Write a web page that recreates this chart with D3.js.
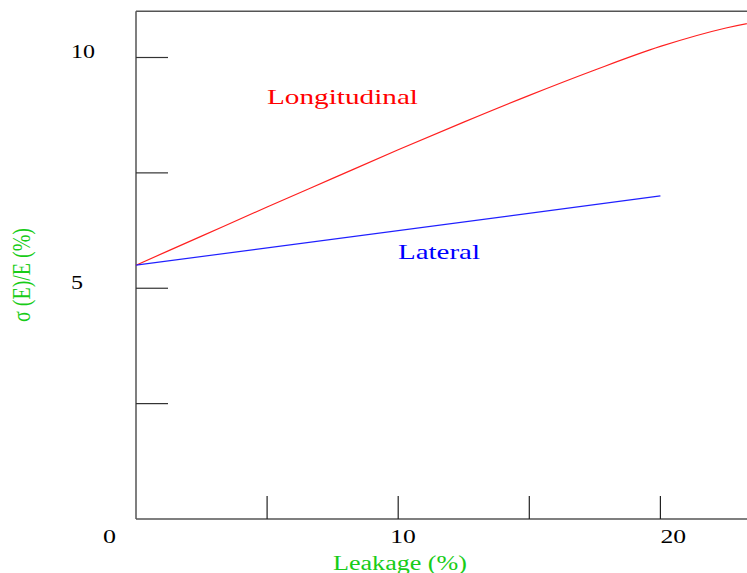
<!DOCTYPE html>
<html>
<head>
<meta charset="utf-8">
<script src="https://cdn.jsdelivr.net/npm/d3@7"></script>
<style>
  html, body { margin: 0; padding: 0; background: #fff; }
  svg { display: block; }
  text { font-family: "Liberation Serif", "DejaVu Serif", serif; }
</style>
</head>
<body>
<svg id="chart" width="747" height="573"></svg>
<script>
// Energy resolution versus leakage
const leakage      = [0, 2.5, 5, 7.5, 10, 12.5, 15, 17.5, 20, 22.5, 25];
const longitudinal = [5.5, 6.13, 6.76, 7.38, 8.0, 8.6, 9.18, 9.73, 10.24, 10.64, 10.9];
const lateralX     = [0, 20];
const lateral      = [5.5, 7.0];

const xTicks = [5, 10, 15, 20];
const yTicks = [2.5, 5, 7.5, 10];
const xTickLabels = [10, 20];
const yTickLabels = [5, 10];
const originLabel = "0";

const svg = d3.select("#chart");

const x = d3.scaleLinear().domain([0, 25]).range([136, 136 + 25 * 26.22]);
const y = d3.scaleLinear().domain([0, 11]).range([519, 11.35]);

const frame = "#555";

// frame: left, bottom, top
svg.append("line").attr("x1", x(0)).attr("x2", x(0)).attr("y1", y(11)).attr("y2", y(0))
  .attr("stroke", frame).attr("stroke-width", 1.5);
svg.append("line").attr("x1", x(0)).attr("x2", x(25)).attr("y1", y(0)).attr("y2", y(0))
  .attr("stroke", frame).attr("stroke-width", 1.5);
svg.append("line").attr("x1", x(0)).attr("x2", x(25)).attr("y1", y(11)).attr("y2", y(11))
  .attr("stroke", frame).attr("stroke-width", 1.5);

// inward ticks
svg.selectAll(".yt").data(yTicks).join("line")
  .attr("x1", x(0)).attr("x2", x(0) + 32)
  .attr("y1", d => y(d)).attr("y2", d => y(d))
  .attr("stroke", "#333").attr("stroke-width", 1.2);
svg.selectAll(".xt").data(xTicks).join("line")
  .attr("x1", d => x(d)).attr("x2", d => x(d))
  .attr("y1", y(0)).attr("y2", y(0) - 23)
  .attr("stroke", "#222").attr("stroke-width", 1.2);

// tick labels
svg.selectAll(".yl").data(yTickLabels).join("text")
  .attr("x", 71).attr("y", d => y(d) + 0.5)
  .attr("font-size", 19)
  .attr("textLength", d => String(d).length * 12)
  .attr("lengthAdjust", "spacingAndGlyphs")
  .text(d => d);

const xNudge = { 10: -8, 20: 0 };
svg.selectAll(".xl").data(xTickLabels).join("text")
  .attr("x", d => x(d) + xNudge[d]).attr("y", 542.5)
  .attr("font-size", 19)
  .attr("textLength", d => String(d).length * 12.8)
  .attr("lengthAdjust", "spacingAndGlyphs")
  .text(d => d);

svg.append("text").attr("x", 103).attr("y", 542.5)
  .attr("font-size", 19).attr("textLength", 13).attr("lengthAdjust", "spacingAndGlyphs")
  .text(originLabel);

// axis titles
const green = "#18cc18";
svg.append("text").attr("x", 333).attr("y", 570)
  .attr("font-size", 20).attr("fill", green)
  .attr("textLength", 134).attr("lengthAdjust", "spacingAndGlyphs")
  .text("Leakage (%)");

svg.append("text")
  .attr("transform", "translate(30,322) rotate(-90) scale(1,1.35)")
  .attr("font-size", 19).attr("fill", green)
  .attr("textLength", 94).attr("lengthAdjust", "spacingAndGlyphs")
  .text("σ (E)/E (%)");

// curves
const line = d3.line().x(d => x(d[0])).y(d => y(d[1]));

svg.append("path")
  .datum(leakage.map((v, i) => [v, longitudinal[i]]))
  .attr("d", line.curve(d3.curveMonotoneX))
  .attr("fill", "none").attr("stroke", "#ff2020").attr("stroke-width", 1.2);

svg.append("path")
  .datum(lateralX.map((v, i) => [v, lateral[i]]))
  .attr("d", d3.line().x(d => x(d[0])).y(d => y(d[1])))
  .attr("fill", "none").attr("stroke", "#2020ff").attr("stroke-width", 1.2);

// curve labels
svg.append("text").attr("x", 267).attr("y", 104)
  .attr("font-size", 21).attr("fill", "#ff0000")
  .attr("textLength", 151).attr("lengthAdjust", "spacingAndGlyphs")
  .text("Longitudinal");

svg.append("text").attr("x", 398).attr("y", 259)
  .attr("font-size", 21).attr("fill", "#0000ff")
  .attr("textLength", 82).attr("lengthAdjust", "spacingAndGlyphs")
  .text("Lateral");
</script>
</body>
</html>
